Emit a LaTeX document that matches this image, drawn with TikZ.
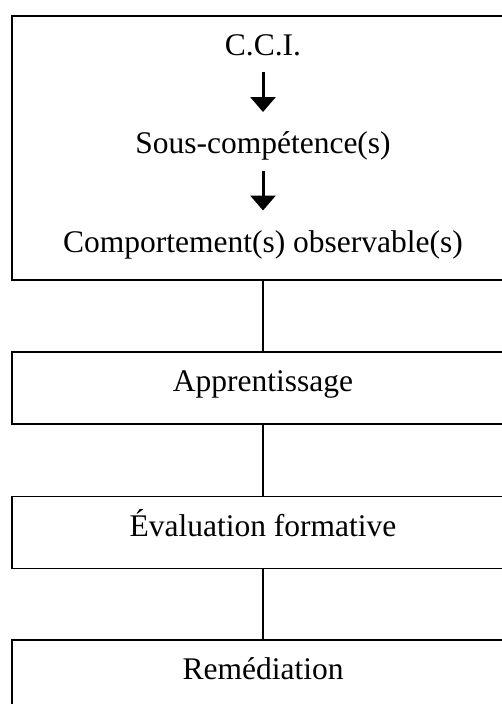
\documentclass[tikz,border=0pt]{standalone}
\usepackage{fontspec}
\setmainfont{Liberation Serif}
\usetikzlibrary{arrows.meta}
\begin{document}
\begin{tikzpicture}[x=1pt,y=-1pt,
  boxline/.style={draw=black,line width=1.8pt},
  framebox/.style={boxline,rectangle,inner sep=0pt,minimum width=502pt,anchor=north},
  stagebox/.style={framebox,align=center,text height=40pt,text depth=32pt,minimum height=72pt},
  label txt/.style={inner sep=0pt,anchor=base},
  bigarrow/.style={line width=3pt,-{Triangle[width=25pt,length=15pt]}},
  link/.style={line width=1.8pt}]
\clip (0,0) rectangle (502,704);
\fill[white] (0,0) rectangle (502,704);
\fontsize{31.5}{38}\selectfont
% top box
\node[framebox,minimum height=264pt] (b1) at (263,15) {};
\node[label txt] (cci) at (263,55) {C.C.I.};
\node[label txt] (sous) at (263,153.5) {Sous-compétence(s)};
\node[label txt] (comp) at (263,252) {Comportement(s) observable(s)};
\draw[bigarrow] ([yshift=-17pt]cci.base) -- ([yshift=41.5pt]sous.base);
\draw[bigarrow] ([yshift=-17pt]sous.base) -- ([yshift=41.5pt]comp.base);
% stages
\node[stagebox] (b2) at (263,351) {Apprentissage};
\node[stagebox] (b3) at (263,495.5) {Évaluation formative};
\node[stagebox] (b4) at (263,639) {Remédiation};
\draw[link] (b1.south) -- (b2.north);
\draw[link] (b2.south) -- (b3.north);
\draw[link] (b3.south) -- (b4.north);
\end{tikzpicture}
\end{document}
